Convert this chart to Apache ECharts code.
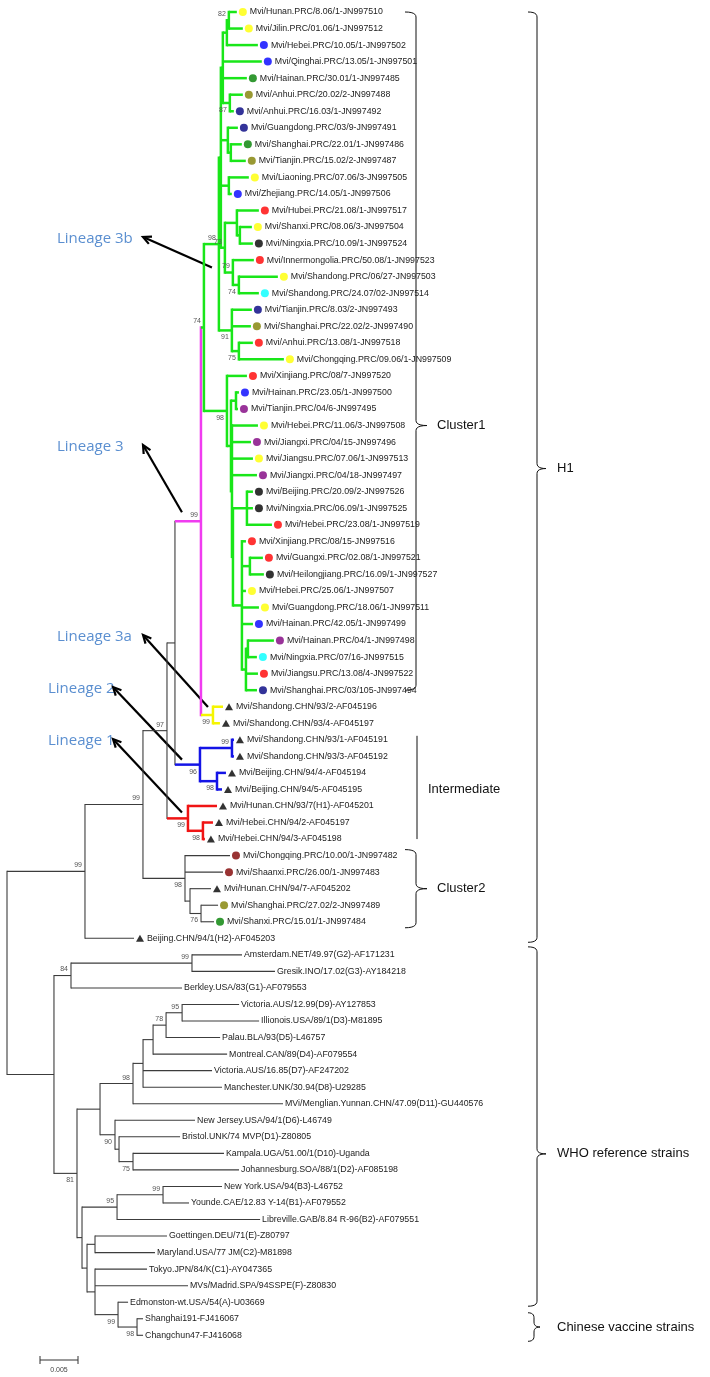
<!DOCTYPE html>
<html><head><meta charset="utf-8">
<script src="https://cdn.jsdelivr.net/npm/echarts@6/dist/echarts.min.js"></script>
<style>html,body{margin:0;padding:0;background:#fff}#c{width:710px;height:1377px}</style>
</head><body><div id="c"></div>
<script>
// ---------------- DATA ----------------
const taxa = [
'Mvi/Hunan.PRC/8.06/1-JN997510','Mvi/Jilin.PRC/01.06/1-JN997512','Mvi/Hebei.PRC/10.05/1-JN997502','Mvi/Qinghai.PRC/13.05/1-JN997501',
'Mvi/Hainan.PRC/30.01/1-JN997485','Mvi/Anhui.PRC/20.02/2-JN997488','Mvi/Anhui.PRC/16.03/1-JN997492','Mvi/Guangdong.PRC/03/9-JN997491',
'Mvi/Shanghai.PRC/22.01/1-JN997486','Mvi/Tianjin.PRC/15.02/2-JN997487','Mvi/Liaoning.PRC/07.06/3-JN997505','Mvi/Zhejiang.PRC/14.05/1-JN997506',
'Mvi/Hubei.PRC/21.08/1-JN997517','Mvi/Shanxi.PRC/08.06/3-JN997504','Mvi/Ningxia.PRC/10.09/1-JN997524','Mvi/Innermongolia.PRC/50.08/1-JN997523',
'Mvi/Shandong.PRC/06/27-JN997503','Mvi/Shandong.PRC/24.07/02-JN997514','Mvi/Tianjin.PRC/8.03/2-JN997493','Mvi/Shanghai.PRC/22.02/2-JN997490',
'Mvi/Anhui.PRC/13.08/1-JN997518','Mvi/Chongqing.PRC/09.06/1-JN997509','Mvi/Xinjiang.PRC/08/7-JN997520','Mvi/Hainan.PRC/23.05/1-JN997500',
'Mvi/Tianjin.PRC/04/6-JN997495','Mvi/Hebei.PRC/11.06/3-JN997508','Mvi/Jiangxi.PRC/04/15-JN997496','Mvi/Jiangsu.PRC/07.06/1-JN997513',
'Mvi/Jiangxi.PRC/04/18-JN997497','Mvi/Beijing.PRC/20.09/2-JN997526','Mvi/Ningxia.PRC/06.09/1-JN997525','Mvi/Hebei.PRC/23.08/1-JN997519',
'Mvi/Xinjiang.PRC/08/15-JN997516','Mvi/Guangxi.PRC/02.08/1-JN997521','Mvi/Heilongjiang.PRC/16.09/1-JN997527','Mvi/Hebei.PRC/25.06/1-JN997507',
'Mvi/Guangdong.PRC/18.06/1-JN997511','Mvi/Hainan.PRC/42.05/1-JN997499','Mvi/Hainan.PRC/04/1-JN997498','Mvi/Ningxia.PRC/07/16-JN997515',
'Mvi/Jiangsu.PRC/13.08/4-JN997522','Mvi/Shanghai.PRC/03/105-JN997494','Mvi/Shandong.CHN/93/2-AF045196','Mvi/Shandong.CHN/93/4-AF045197',
'Mvi/Shandong.CHN/93/1-AF045191','Mvi/Shandong.CHN/93/3-AF045192','Mvi/Beijing.CHN/94/4-AF045194','Mvi/Beijing.CHN/94/5-AF045195',
'Mvi/Hunan.CHN/93/7(H1)-AF045201','Mvi/Hebei.CHN/94/2-AF045197','Mvi/Hebei.CHN/94/3-AF045198','Mvi/Chongqing.PRC/10.00/1-JN997482',
'Mvi/Shaanxi.PRC/26.00/1-JN997483','Mvi/Hunan.CHN/94/7-AF045202','Mvi/Shanghai.PRC/27.02/2-JN997489','Mvi/Shanxi.PRC/15.01/1-JN997484',
'Beijing.CHN/94/1(H2)-AF045203','Amsterdam.NET/49.97(G2)-AF171231','Gresik.INO/17.02(G3)-AY184218','Berkley.USA/83(G1)-AF079553',
'Victoria.AUS/12.99(D9)-AY127853','Illionois.USA/89/1(D3)-M81895','Palau.BLA/93(D5)-L46757','Montreal.CAN/89(D4)-AF079554',
'Victoria.AUS/16.85(D7)-AF247202','Manchester.UNK/30.94(D8)-U29285','MVi/Menglian.Yunnan.CHN/47.09(D11)-GU440576','New Jersey.USA/94/1(D6)-L46749',
'Bristol.UNK/74 MVP(D1)-Z80805','Kampala.UGA/51.00/1(D10)-Uganda','Johannesburg.SOA/88/1(D2)-AF085198','New York.USA/94(B3)-L46752',
'Younde.CAE/12.83 Y-14(B1)-AF079552','Libreville.GAB/8.84 R-96(B2)-AF079551','Goettingen.DEU/71(E)-Z80797','Maryland.USA/77 JM(C2)-M81898',
'Tokyo.JPN/84/K(C1)-AY047365','MVs/Madrid.SPA/94SSPE(F)-Z80830','Edmonston-wt.USA/54(A)-U03669','Shanghai191-FJ416067','Changchun47-FJ416068'
];
// marker: y yellow, b blue, n navy, g green, o olive, r red, k black, c cyan, p purple, m maroon, t triangle, '' none
const tipMark = [
'y','y','b','b','g','o','n','n','g','o','y','b','r','y','k','r','y','c','n','o','r','y',
'r','b','p','y','p','y','p','k','k','r','r','r','k','y','y','b','p','c','r','n',
't','t','t','t','t','t','t','t','t','m','m','t','o','g','t',
'','','','','','','','','','','','','','','','','','','','','','','',''
];
const tipParent = [
'P','P','Q','T2','T2','N87','N87','GST','ST','ST','LZ','LZ','HSN','SN','SN','N79','N74','N74','N91','N91','N75','N75',
'B98','HT','HT','B2b','B2b','B2b','B2b','BNH','BNH','BNH','B4','GH','GH','B4','B4','B4','HN','HN','B5','B5',
'Y','Y','S','S','BJ','BJ','L1','L1b','L1b','C2','C2','C2b','C2c','C2c','N99',
'Ams','Ams','N84','N95a','N95a','N166','N78','NX','NX','N98d','N90','N119','N75d','N75d','N99b','N99b','N95b',
'NGM','NGM','NF','NF','N99v','N98v','N98v'
];
// terminal branch lengths (x0.001 substitutions/site)
const tipLen = [
1.05,1.84,4.08,5.13,3.16,1.71,0.53,1.32,1.45,1.97,2.63,0.39,2.89,1.58,1.71,2.76,5.13,2.63,2.63,2.50,1.84,5.92,
2.63,0.39,0.26,3.42,2.50,2.76,3.29,0.79,0.79,3.29,0.53,1.71,1.84,0.53,2.24,1.45,3.42,1.18,1.58,1.45,
1.32,0.92,0.26,0.26,1.18,0.66,3.82,1.32,0.26,5.92,5.00,2.76,2.24,1.71,6.45,
6.58,10.92,14.61,7.50,10.13,7.11,9.74,9.08,10.39,19.74,10.53,8.03,11.97,13.95,7.76,3.42,18.82,
9.47,7.89,6.84,12.24,1.32,0.79,0.79
];
// internal nodes: id, parent, branch length (x0.001), bootstrap, label side (a above / b below), lineage colour
const clades = [
['root',null,0,'','',''],
['N99','root',10.26,'99','a',''],
['N97','N99',7.63,'99','a',''],
['NB','N97',3.16,'97','a',''],
['NA','NB',1.05,'','',''],
['L3','NA',3.42,'99','a','magenta'],
['G','L3',0.39,'74','a','green'],
['A98','G',1.97,'98','a',''],
['Top','A98',0.26,'','',''],
['T2','Top',0.26,'','',''],
['Q','T2',0.53,'','',''],
['P','Q',0.26,'82','a',''],
['N87','T2',0.92,'87','b',''],
['GST','Top',0.92,'','',''],
['ST','GST',0.39,'','',''],
['LZ','Top',1.05,'','',''],
['N73','Top',0.53,'73','a',''],
['HSN','N73',1.58,'','',''],
['SN','HSN',0.39,'','',''],
['N79','N73',1.05,'79','a',''],
['N74','N79',0.79,'74','b',''],
['N91','A98',1.71,'91','b',''],
['N75','N91',0.92,'75','b',''],
['B98','G',3.03,'98','b',''],
['B2','B98',0.53,'','',''],
['HT','B2',0.66,'','',''],
['B2b','B2',0.13,'','',''],
['B3','B2b',0.13,'','',''],
['BNH','B3',1.84,'','',''],
['B4','B3',1.18,'','',''],
['GH','B4',1.05,'','',''],
['B5','B4',0.53,'','',''],
['HN','B5',0.26,'','',''],
['Y','L3',1.58,'99','b','yellow'],
['L2','NA',3.29,'96','b','blue'],
['S','L2',4.21,'99','a',''],
['BJ','L2',2.24,'98','b',''],
['L1','NB',2.76,'99','b','red'],
['L1b','L1',1.97,'98','b',''],
['C2','N97',5.53,'98','b',''],
['C2b','C2',0.66,'','',''],
['C2c','C2b',1.45,'76','b',''],
['N54','root',6.18,'','',''],
['N84','N54',2.24,'84','a',''],
['Ams','N84',15.92,'99','a',''],
['N81','N54',3.03,'81','b',''],
['ND','N81',3.03,'','',''],
['N98d','ND',4.34,'98','a',''],
['NX','N98d',1.32,'','',''],
['N78','NX',1.32,'','',''],
['N166','N78',1.71,'78','a',''],
['N95a','N166',2.11,'95','a',''],
['N90','ND',1.97,'90','b',''],
['N119','N90',0.53,'','',''],
['N75d','N119',1.84,'75','b',''],
['N82w','N81',0.66,'','',''],
['N95b','N82w',4.61,'95','a',''],
['N99b','N95b',6.05,'99','a',''],
['N87w','N82w',0.66,'','',''],
['NGM','N87w',1.05,'','',''],
['NF','N87w',1.05,'','',''],
['N99v','NF',3.03,'99','b',''],
['N98v','N99v',2.50,'98','b','']
];
const lineageLabels = ['Lineage 3b','Lineage 3','Lineage 3a','Lineage 2','Lineage 1'];
const lineageNodes = ['G','L3','Y','L2','L1'];
const groupLabels = ['Cluster1','Intermediate','Cluster2','H1','WHO reference strains','Chinese vaccine strains'];
const scaleBar = 5; // 0.005

// ---------------- STYLE ----------------
const lineColor = {k:'#3c3c3c',green:'#19e619',magenta:'#f03cf0',yellow:'#f5f500',blue:'#1414e6',red:'#f01414'};
const markColor = {y:'#ffff00',b:'#0000ff',n:'#000080',g:'#008000',o:'#808000',r:'#ff0000',k:'#000000',c:'#00ffff',p:'#800080',m:'#800000',t:'#000000'};

// ---------------- TREE LAYOUT ----------------
const kids = {}, depth = {}, col = {}, yOf = {};
clades.forEach(c => { kids[c[0]] = []; });
clades.forEach(c => { if (c[1]) kids[c[1]].push({c: c[0]}); });
tipParent.forEach((p, i) => kids[p].push({t: i}));
clades.forEach(c => {
  depth[c[0]] = c[1] ? depth[c[1]] + c[2] : 0;
  col[c[0]] = c[5] || (c[1] ? col[c[1]] : 'k');
});
function childYs(id){ return kids[id].map(k => k.c !== undefined ? calcY(k.c) : k.t); }
function calcY(id){ const ys = childYs(id); yOf[id] = (Math.min(...ys) + Math.max(...ys)) / 2; return yOf[id]; }
calcY('root');
const segs = [];
clades.forEach(c => {
  const id = c[0];
  if (c[1]) segs.push([depth[c[1]], yOf[id], depth[id], yOf[id], col[id]]);
  const ys = childYs(id);
  segs.push([depth[id], Math.min(...ys), depth[id], Math.max(...ys), col[id]]);
});
const tipDepth = tipParent.map((p, i) => depth[p] + tipLen[i]);
tipParent.forEach((p, i) => segs.push([depth[p], i, tipDepth[i], i, col[p]]));
segs.sort((a, b) => (a[4] === 'k' ? 0 : 1) - (b[4] === 'k' ? 0 : 1));
const bootNodes = clades.filter(c => c[3]);

const chart = echarts.init(document.getElementById('c'), null, {renderer: 'canvas'});
const FONT = '"Liberation Sans", Arial, sans-serif';

chart.setOption({
  animation: false,
  backgroundColor: '#fff',
  grid: {left: 7, top: 12, width: 684, height: 1323.3, containLabel: false},
  xAxis: {type: 'value', min: 0, max: 90, show: false},
  yAxis: {type: 'value', min: 0, max: 80, inverse: true, show: false},
  series: [
    {
      type: 'custom', name: 'branches', clip: false,
      data: segs.map(s => [s[0], s[1], s[2], s[3]]),
      renderItem: (params, api) => {
        const s = segs[params.dataIndex];
        const p1 = api.coord([s[0], s[1]]), p2 = api.coord([s[2], s[3]]);
        const w = s[4] === 'k' ? 1.1 : 2.5;
        const ext = s[0] === s[2] ? w / 2 : 0;
        return {type: 'line', shape: {x1: p1[0], y1: p1[1] - ext, x2: p2[0], y2: p2[1] + ext},
          style: {stroke: lineColor[s[4]], lineWidth: w}};
      }
    },
    {
      type: 'scatter', name: 'markers', clip: false,
      data: tipDepth.map((d, i) => tipMark[i] ? {value: [d, i],
        symbol: tipMark[i] === 't' ? 'triangle' : 'circle',
        symbolSize: tipMark[i] === 't' ? [8, 7] : 8,
        itemStyle: {color: markColor[tipMark[i]]}} : null).filter(Boolean),
      symbolOffset: [6, 0]
    },
    {
      type: 'custom', name: 'taxa', clip: false,
      data: tipDepth.map((d, i) => [d, i]),
      renderItem: (params, api) => {
        const i = params.dataIndex;
        const p = api.coord([api.value(0), api.value(1)]);
        return {type: 'text', x: p[0] + (tipMark[i] ? 13 : 2), y: p[1],
          style: {text: taxa[i], fill: '#222', font: '8.8px ' + FONT, textAlign: 'left', textVerticalAlign: 'middle'}};
      }
    },
    {
      type: 'custom', name: 'bootstrap', clip: false,
      data: bootNodes.map(c => [depth[c[0]], yOf[c[0]]]),
      renderItem: (params, api) => {
        const c = bootNodes[params.dataIndex];
        const p = api.coord([api.value(0), api.value(1)]);
        return {type: 'text', x: p[0] - 3, y: p[1] + (c[4] === 'a' ? -6 : 7),
          style: {text: c[3], fill: '#555', font: '7px ' + FONT, textAlign: 'right', textVerticalAlign: 'middle'}};
      }
    }
  ]
});

// ---------------- ANNOTATIONS (anchored to tree nodes) ----------------
const px = (x, y) => chart.convertToPixel({gridIndex: 0}, [x, y]);
const tipY = i => px(0, i)[1];
function qpts(p0, p1, p2, n) {
  const out = [];
  for (let k = 0; k <= n; k++) {
    const t = k / n, a = (1 - t) * (1 - t), b = 2 * (1 - t) * t, c = t * t;
    out.push([a * p0[0] + b * p1[0] + c * p2[0], a * p0[1] + b * p1[1] + c * p2[1]]);
  }
  return out;
}
function brace(x, y1, y2, w, ym) {
  const r = 5, xm = x + w / 2;
  const pts = [].concat(
    qpts([x, y1], [xm, y1], [xm, y1 + r], 6),
    qpts([xm, ym - r], [xm, ym], [x + w, ym], 6),
    qpts([x + w, ym], [xm, ym], [xm, ym + r], 6),
    qpts([xm, y2 - r], [xm, y2], [x, y2], 6));
  return {type: 'polyline', shape: {points: pts}, style: {stroke: '#111', lineWidth: 1, fill: null}};
}
const blue = '#5b8fd0';
const LF = '15px "Open Sans", "Liberation Sans", sans-serif';
const gfx = [];
const labelPos = [[57, 239], [57, 447], [57, 637], [48, 689], [48, 741]];
const tailOff = [[8, -60], [-19, -9], [-5, -8], [-18, -5], [-6, -6]];
lineageNodes.forEach((id, k) => {
  const node = px(depth[id], yOf[id]);
  const [lx, ly] = labelPos[k];
  gfx.push({type: 'text', x: lx, y: ly, style: {text: lineageLabels[k], fill: blue, font: LF, textVerticalAlign: 'middle'}});
  const hx = lx + (k < 3 ? 86 : 65), hy = ly - 2;
  const tx = node[0] + tailOff[k][0], ty = node[1] + tailOff[k][1];
  const ang = Math.atan2(ty - hy, tx - hx);
  const L = 9, s = 0.45;
  gfx.push({type: 'line', shape: {x1: hx + 2 * Math.cos(ang), y1: hy + 2 * Math.sin(ang), x2: tx, y2: ty}, style: {stroke: '#000', lineWidth: 2.2}});
  gfx.push({type: 'polyline', shape: {points: [[hx + L * Math.cos(ang - s), hy + L * Math.sin(ang - s)], [hx, hy], [hx + L * Math.cos(ang + s), hy + L * Math.sin(ang + s)]]}, style: {stroke: '#000', lineWidth: 2.2, fill: null}});
});
const GF = '13px "Liberation Sans", sans-serif';
const txt = (x, y, t) => ({type: 'text', x: x, y: y, style: {text: t, fill: '#111', font: GF, textVerticalAlign: 'middle'}});
const c1a = tipY(0), c1b = tipY(41), c1m = tipY(25);
gfx.push(brace(405, c1a, c1b, 22, c1m));
gfx.push(txt(437, c1m, groupLabels[0]));
gfx.push({type: 'line', shape: {x1: 417, y1: tipY(44) - 4, x2: 417, y2: tipY(50)}, style: {stroke: '#111', lineWidth: 1}});
gfx.push(txt(428, (tipY(44) + tipY(50)) / 2, groupLabels[1]));
const c2a = tipY(51) - 6, c2b = tipY(55) + 6;
gfx.push(brace(405, c2a, c2b, 22, (c2a + c2b) / 2));
gfx.push(txt(437, (c2a + c2b) / 2, groupLabels[2]));
const h1a = tipY(0), h1b = tipY(56) + 4, h1m = tipY(27.6);
gfx.push(brace(528, h1a, h1b, 18, h1m));
gfx.push(txt(557, h1m, groupLabels[3]));
const wa = tipY(57) - 8, wb = tipY(78) + 4, wm = tipY(70) - 16;
gfx.push(brace(528, wa, wb, 18, wm));
gfx.push(txt(557, wm, groupLabels[4]));
const va = tipY(79) - 6, vb = tipY(80) + 6;
gfx.push(brace(528, va, vb, 12, (va + vb) / 2));
gfx.push(txt(557, (va + vb) / 2, groupLabels[5]));
// scale bar
const sb0 = px(0, 80), sb1 = px(scaleBar, 80);
const sbx = 40, sby = 1360, sbw = sb1[0] - sb0[0];
gfx.push({type: 'line', shape: {x1: sbx, y1: sby, x2: sbx + sbw, y2: sby}, style: {stroke: '#333', lineWidth: 1}});
gfx.push({type: 'line', shape: {x1: sbx, y1: sby - 4, x2: sbx, y2: sby + 4}, style: {stroke: '#333', lineWidth: 1}});
gfx.push({type: 'line', shape: {x1: sbx + sbw, y1: sby - 4, x2: sbx + sbw, y2: sby + 4}, style: {stroke: '#333', lineWidth: 1}});
gfx.push({type: 'text', x: sbx + sbw / 2, y: sby + 10, style: {text: (scaleBar / 1000).toFixed(3), fill: '#444', font: '7px ' + FONT, textAlign: 'center', textVerticalAlign: 'middle'}});
chart.setOption({graphic: {elements: gfx}});
</script></body></html>
